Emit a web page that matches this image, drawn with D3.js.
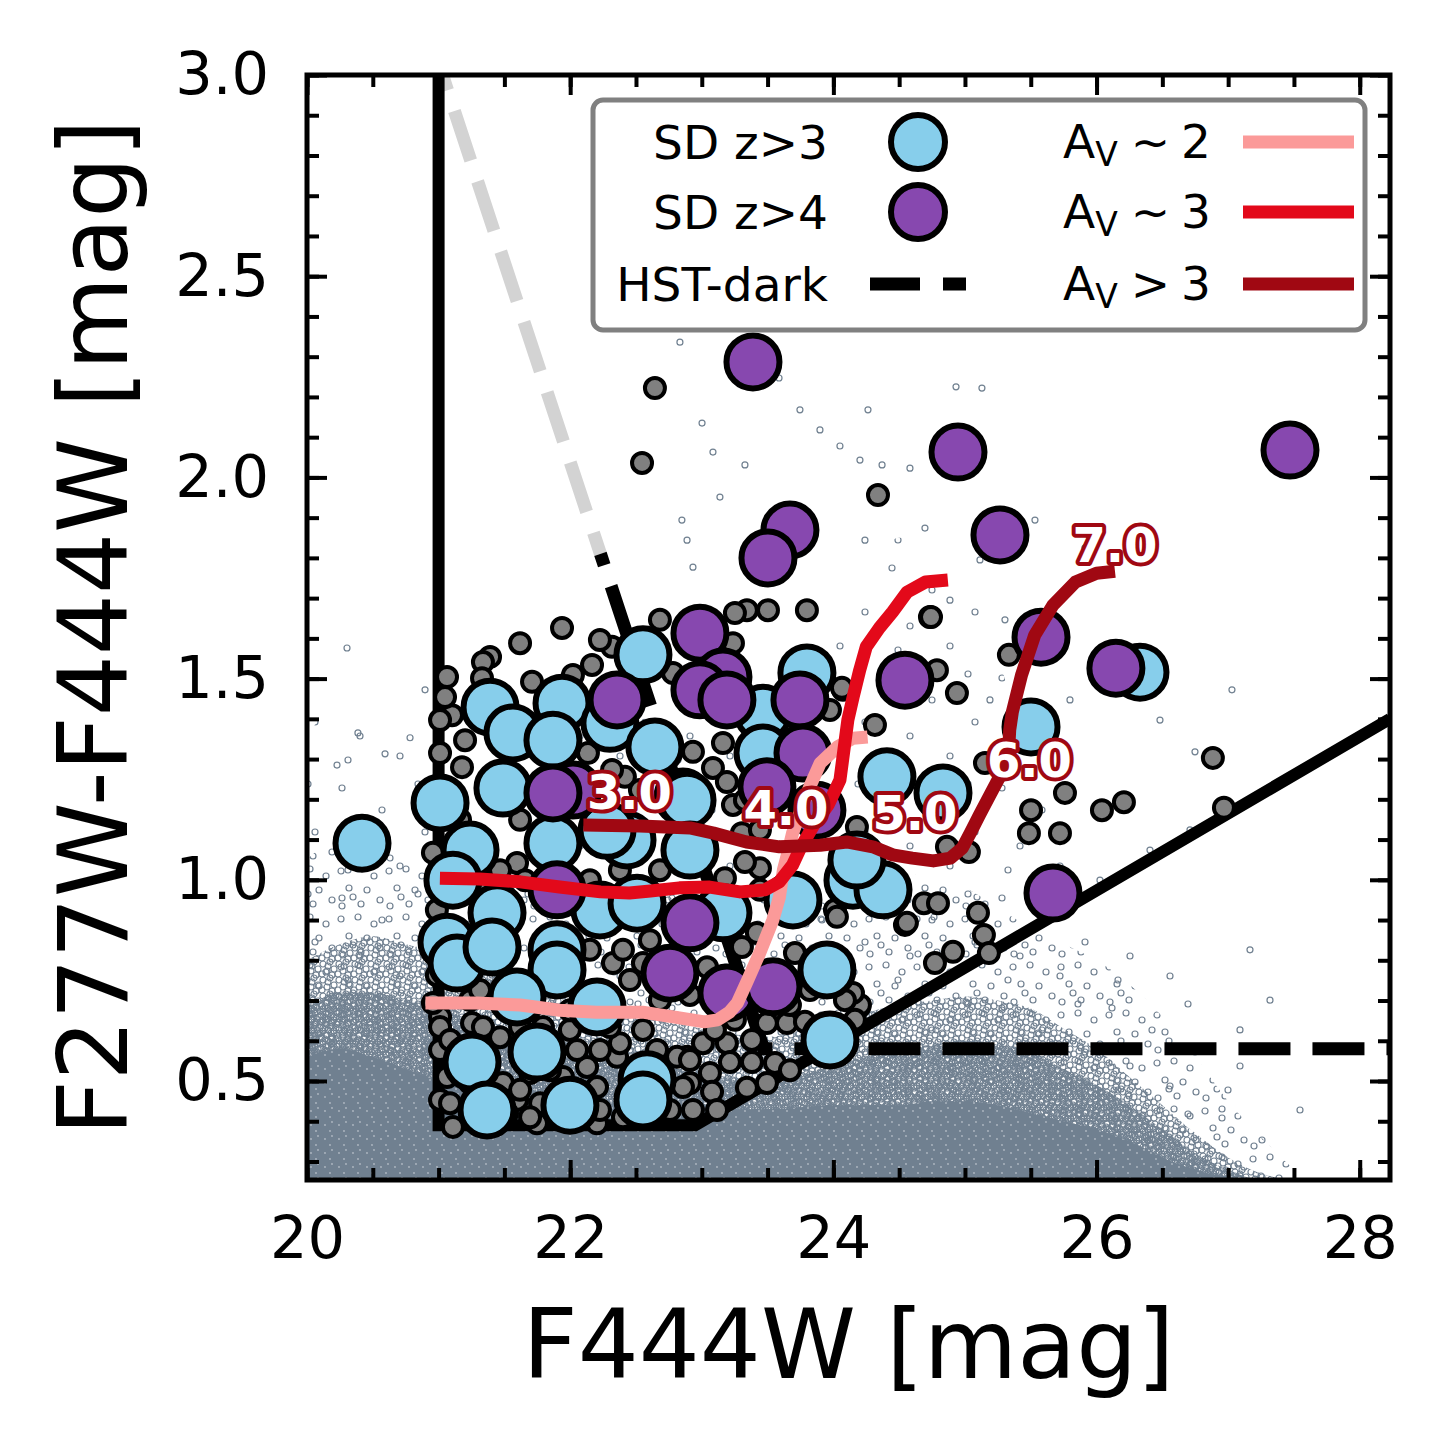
<!DOCTYPE html>
<html>
<head>
<meta charset="utf-8">
<style>
    body { margin: 0; background: #fff; }
    svg { font-family: "DejaVu Sans", sans-serif; }
</style>
</head>
<body>
<svg width="1451" height="1446"></svg>
<script src="https://d3js.org/d3.v7.min.js"></script>
<script>
    // ---- values (F444W, F277W-F444W) ----
    const xTicks = [20, 22, 24, 26, 28];
    const yTicks = [0.5, 1.0, 1.5, 2.0, 2.5, 3.0];

    // SD z>3 (light blue)
    const sdZ3 = [[20.418,1.091],[21.011,1.191],[21.391,1.429],[21.565,1.365],[21.938,1.439],[21.869,1.347],
        [22.302,1.389],[22.553,1.559],[22.644,1.330],[21.489,1.228],[21.239,1.074],[21.869,1.091],[22.432,1.099],
        [22.857,1.206],[22.280,1.123],[21.444,0.918],[21.064,0.845],[21.140,0.793],[21.406,0.833],[21.900,0.826],
        [21.900,0.776],[22.226,0.925],[21.596,0.709],[22.204,0.684],[21.254,0.547],[21.748,0.572],[21.998,0.440],
        [21.368,0.428],[22.584,0.503],[22.553,0.453],[21.109,0.999],[23.161,0.918],[23.693,0.950],[24.149,0.999],
        [24.377,0.975],[23.951,0.776],[23.974,0.602],[23.799,1.514],[23.465,1.414],[23.465,1.315],[24.407,1.256],
        [24.833,1.216],[22.888,1.198],[24.179,1.049],[22.910,1.074],[25.502,1.380],[26.330,1.516],[22.508,0.942]];

    // SD z>4 (purple)
    const sdZ4 = [[23.389,2.287],[24.947,2.063],[27.470,2.068],[23.670,1.869],[23.503,1.800],[25.266,1.857],
        [25.578,1.603],[26.147,1.526],[24.544,1.496],[22.986,1.613],[23.161,1.504],[22.986,1.472],[23.191,1.447],
        [23.746,1.447],[23.769,1.315],[23.495,1.231],[22.356,1.447],[22.021,1.223],[21.869,1.216],[23.875,1.173],
        [21.900,0.975],[22.910,0.893],[22.758,0.768],[23.191,0.719],[23.541,0.734],[25.669,0.967]];

    // HST-dark candidates (grey)
    const hstDark = [[21.938,1.626],[21.619,1.588],[21.391,1.554],[21.337,1.541],[21.064,1.504],[21.330,1.501],
        [21.710,1.492],[22.166,1.534],[22.021,1.509],[21.102,1.409],[21.201,1.347],[21.011,1.315],[21.178,1.280],
        [22.135,1.315],[22.416,1.256],[22.318,1.579],[22.781,1.514],[21.596,1.042],[21.049,1.454],[21.011,1.397],
        [23.343,1.670],[23.503,1.670],[23.799,1.670],[24.734,1.653],[24.939,1.464],[24.787,1.521],[24.073,1.472],
        [24.316,1.385],[23.161,1.340],[22.933,1.318],[23.085,1.278],[23.191,1.243],[23.237,1.186],[24.179,1.131],
        [23.305,1.116],[24.886,1.074],[23.442,1.029],[23.252,1.663],[23.237,1.588],[23.974,1.422],
        [24.339,1.956],[24.742,1.653],[25.334,1.559],[24.065,1.477],[26.884,1.303],[25.760,1.216],[25.502,1.173],
        [26.041,1.173],[26.208,1.193],[26.968,1.179],[25.486,1.116],[25.722,1.116],[25.152,1.290],[24.863,1.082],
        [25.030,1.069],[24.688,0.942],[24.795,0.942],[25.099,0.918],[24.544,0.888],[24.012,0.925],[25.144,0.863],
        [22.644,2.222],[22.546,2.036],
        [25.182,0.818],[24.909,0.821],[24.772,0.793],[24.195,0.684],[24.559,0.893],[24.202,0.689],[24.027,0.908],
        [23.708,0.818],[23.419,0.868],[23.305,0.833],[23.040,0.783],[23.495,0.644],[23.647,0.644],[23.381,0.602],
        [23.191,0.594],[23.009,0.594],[22.888,0.560],[23.214,0.547],[23.381,0.547],[23.556,0.545],[23.670,0.527],
        [23.062,0.520],[22.910,0.495],[23.078,0.473],[23.343,0.483],[23.495,0.495],[22.933,0.428],[23.116,0.428],
        [24.149,0.719],
        [21.011,0.453],[21.254,0.644],[21.011,0.659],[21.467,0.609],[21.064,0.510],[21.489,0.495],[21.596,0.453],
        [21.771,0.445],[21.945,0.510],[22.128,0.535],[22.204,0.485],[22.356,0.560],[22.378,0.594],[22.302,0.634],
        [22.553,0.627],[22.660,0.577],[22.812,0.560],[22.857,0.485],[22.758,0.428],[22.401,0.410],[22.204,0.395],
        [21.748,0.395],[21.109,0.386],[22.325,0.793],[22.401,0.826],[22.553,0.793],[22.606,0.850],[22.150,0.826],
        [22.454,0.751],[20.957,0.694],[21.011,0.634],[21.011,0.577],[21.337,0.634],[21.619,0.634],[21.793,0.634],
        [21.998,0.627],[22.052,0.577],[21.846,0.527],[21.695,0.520],[21.368,0.520],[21.239,0.495],[21.087,0.445],
        [21.520,0.420],[21.695,0.410],[21.900,0.410],[20.957,1.067],[20.987,0.925],[20.987,0.763],
        [21.467,1.024],[21.657,0.999],[21.315,0.999],[22.530,1.223],[22.318,1.273],[23.328,1.044],[23.176,1.004],
        [23.442,0.975],[22.682,0.701],[22.910,0.714],[23.670,0.689],[23.784,0.647],[22.150,0.999],[21.998,0.676],
        [21.163,1.149],[21.619,1.149],[21.239,0.701],[22.378,1.024],[22.682,1.024],[23.328,1.198],[23.442,1.124],
        [22.910,0.552],[23.100,0.627],[23.252,0.652],[23.822,0.726],[21.315,0.726],[22.226,0.577],[21.619,0.478],
        [22.226,0.428],[21.087,0.602],[22.226,1.596],[22.682,1.646],[24.088,0.701],[24.164,0.652]];

    // isolated catalogue sources above the main cloud
    const catalogOutliers = [[22.834,2.336],[23.002,2.135],[23.085,2.063],[23.587,2.247],[23.746,2.168],
        [24.263,2.168],[24.932,2.225],[25.129,2.222],[24.202,2.043],[24.370,2.031],[24.331,1.944],[24.240,1.844],
        [24.696,1.874],[22.849,1.894],[22.888,1.844],[22.933,1.777],[23.138,1.951],[23.328,2.031],[23.898,2.118],
        [24.050,2.078],[24.582,2.023],[24.772,2.056],[25.532,1.894],[25.912,1.825],[26.307,1.472],[26.748,1.318],
        [27.029,1.472],[20.304,1.576],[20.783,1.353],[20.387,1.365],[20.593,1.313],[20.228,1.285],[20.897,1.472],
        [26.482,1.397],[25.798,1.447],[25.114,1.795],[24.886,1.695],[25.304,1.646],[25.190,1.447],[26.026,0.999],
        [26.406,1.074],[26.710,1.124],[27.166,0.826],[27.318,0.701],[27.090,0.627],[27.546,0.428]];

    // catalogue cloud: upper envelope of each density level along F444W
    const cloudX      = [20, 20.25, 20.5, 20.75, 21, 21.5, 22, 22.5, 23, 23.5, 24, 24.25, 24.5, 24.75, 25, 25.25, 25.5, 25.75, 26, 26.25, 26.5, 26.75, 27, 27.25, 27.5];
    const cloudFaint  = [1.35, 1.45, 1.40, 1.35, 1.30, 1.30, 1.35, 1.40, 1.40, 1.45, 1.60, 1.75, 1.85, 1.85, 1.75, 1.55, 1.30, 1.10, 0.98, 0.90, 0.80, 0.72, 0.62, 0.50, 0.35];
    const cloudSparse = [1.05, 1.10, 1.08, 1.05, 1.02, 1.00, 1.00, 1.00, 0.98, 0.95, 0.97, 1.00, 1.02, 1.00, 0.98, 0.93, 0.88, 0.84, 0.80, 0.74, 0.66, 0.56, 0.45, 0.36, 0.28];
    const cloudDense  = [0.80, 0.84, 0.86, 0.84, 0.82, 0.76, 0.71, 0.67, 0.63, 0.61, 0.65, 0.67, 0.69, 0.70, 0.71, 0.70, 0.68, 0.63, 0.58, 0.51, 0.44, 0.37, 0.31, 0.27, 0.254];
    const cloudHeavy  = [0.68, 0.72, 0.72, 0.70, 0.68, 0.62, 0.58, 0.55, 0.52, 0.50, 0.54, 0.56, 0.58, 0.59, 0.60, 0.59, 0.57, 0.53, 0.49, 0.44, 0.38, 0.32, 0.28, 0.254, 0.254];
    const cloudSolid  = [0.56, 0.58, 0.56, 0.53, 0.50, 0.47, 0.45, 0.44, 0.43, 0.43, 0.44, 0.44, 0.44, 0.45, 0.45, 0.44, 0.42, 0.40, 0.38, 0.35, 0.31, 0.28, 0.26, 0.254, 0.254];

    // selection boundaries
    const cutSolid = [[21.0, 3.0], [21.0, 0.39], [22.95, 0.39], [28.23, 1.40]];
    const hstCutGrey = [[21.03, 3.0], [22.23, 1.81]];
    const hstCutBlack = [[22.23, 1.81], [23.47, 0.58], [28.3, 0.58]];

    // dusty-galaxy colour tracks
    const avTrack2 = [[20.90,0.694],[21.29,0.694],[21.62,0.689],[21.92,0.676],[22.20,0.671],[22.55,0.671],[22.83,0.657],
        [23.02,0.647],[23.12,0.652],[23.21,0.671],[23.27,0.694],[23.34,0.744],[23.44,0.818],[23.54,0.900],[23.59,0.957],
        [23.62,1.024],[23.65,1.062],[23.69,1.116],[23.82,1.231],[23.90,1.290],[24.03,1.330],[24.15,1.352],[24.26,1.355]];
    const avTrack3 = [[21.01,1.004],[21.31,1.002],[21.62,0.995],[21.92,0.982],[22.23,0.970],[22.45,0.967],[22.61,0.972],
        [22.83,0.980],[23.06,0.982],[23.29,0.970],[23.48,0.975],[23.59,0.995],[23.69,1.037],[23.75,1.079],[23.86,1.141],
        [23.96,1.186],[24.05,1.248],[24.09,1.347],[24.11,1.397],[24.15,1.454],[24.20,1.521],[24.25,1.579],[24.35,1.626],
        [24.45,1.666],[24.56,1.715],[24.70,1.740],[24.87,1.745]];
    const avTrack4 = [[22.10,1.136],[22.53,1.134],[22.91,1.129],[23.09,1.116],[23.34,1.094],[23.59,1.082],[23.90,1.086],
        [24.10,1.094],[24.30,1.082],[24.45,1.062],[24.60,1.054],[24.76,1.047],[24.89,1.054],[24.98,1.079],[25.04,1.116],
        [25.11,1.161],[25.19,1.211],[25.27,1.260],[25.33,1.310],[25.34,1.372],[25.36,1.417],[25.43,1.509],[25.53,1.608],
        [25.67,1.683],[25.84,1.740],[26.00,1.762],[26.14,1.767]];
    const zLabels = ["3.0", "4.0", "5.0", "6.0", "7.0"];
    const zLabelX = [22.45, 23.64, 24.62, 25.49, 26.14];
    const zLabelY = [1.218, 1.178, 1.166, 1.298, 1.832];

    // ---- layout ----
    const mLeft = 307, mRight = 1390, mTop = 75, mBottom = 1180;
    const svg = d3.select("svg");

    const x = d3.scaleLinear().domain([20, 28.23]).range([mLeft, mRight]);
    const y = d3.scaleLinear().domain([0.254, 3.0]).range([mBottom, mTop]);

    const slate = "#708090";
    const defs = svg.append("defs");
    defs.append("clipPath").attr("id", "plotClip")
        .append("rect").attr("x", mLeft).attr("y", mTop).attr("width", mRight - mLeft).attr("height", mBottom - mTop);

    // ring textures for the dense catalogue cloud
    function ringPattern(id, size, pts) {
        const p = defs.append("pattern").attr("id", id)
            .attr("patternUnits", "userSpaceOnUse").attr("width", size).attr("height", size);
        const all = [];
        pts.forEach(d => { for (const dx of [-size, 0, size]) for (const dy of [-size, 0, size]) all.push([d[0] + dx, d[1] + dy]); });
        p.selectAll("circle").data(all).join("circle")
            .attr("cx", d => d[0]).attr("cy", d => d[1]).attr("r", 3)
            .attr("fill", "none").attr("stroke", slate).attr("stroke-width", 1.2);
    }
    ringPattern("ringsFaint", 110, [[12, 18], [52, 40], [30, 76], [88, 14], [95, 62], [70, 96], [18, 100]]);
    ringPattern("ringsSparse", 48, [[5, 7], [22, 5], [38, 12], [31, 26], [13, 24], [25, 40], [44, 36], [6, 42], [17, 33]]);
    ringPattern("ringsDense", 16, [[3, 4], [10, 2], [14, 9], [7, 11], [2, 14], [12, 15], [8, 6]]);
    ringPattern("ringsHeavy", 11, [[2, 3], [7, 1], [9, 7], [4, 8], [1, 10], [6, 5]]);
    const speck = defs.append("pattern").attr("id", "specks")
        .attr("patternUnits", "userSpaceOnUse").attr("width", 14).attr("height", 14);
    speck.append("rect").attr("width", 14).attr("height", 14).attr("fill", slate);
    speck.selectAll("circle").data([[3, 5], [10, 2], [8, 11]]).join("circle")
        .attr("cx", d => d[0]).attr("cy", d => d[1]).attr("r", 0.9).attr("fill", "#fff").attr("opacity", 0.45);

    const plot = svg.append("g").attr("clip-path", "url(#plotClip)");

    // cloud
    const cloudLevels = [
        { top: cloudFaint, fill: "url(#ringsFaint)" },
        { top: cloudSparse, fill: "url(#ringsSparse)" },
        { top: cloudDense, fill: "url(#ringsDense)" },
        { top: cloudHeavy, fill: "url(#ringsHeavy)" },
        { top: cloudSolid, fill: "url(#specks)" }
    ];
    const area = d3.area()
        .x(d => x(d[0])).y0(y(0.254)).y1(d => y(d[1]))
        .curve(d3.curveMonotoneX);
    plot.selectAll(".cloud").data(cloudLevels).join("path")
        .attr("class", "cloud")
        .attr("d", lvl => area(cloudX.map((cx, i) => [cx, lvl.top[i]])))
        .attr("fill", lvl => lvl.fill);

    plot.selectAll(".outlier").data(catalogOutliers).join("circle")
        .attr("class", "outlier")
        .attr("cx", d => x(d[0])).attr("cy", d => y(d[1])).attr("r", 3)
        .attr("fill", "none").attr("stroke", slate).attr("stroke-width", 1.2);

    // selection lines
    const line = d3.line().x(d => x(d[0])).y(d => y(d[1]));
    plot.append("path").attr("d", line(hstCutGrey))
        .attr("fill", "none").attr("stroke", "#d3d3d3").attr("stroke-width", 13)
        .attr("stroke-dasharray", "52,22").attr("stroke-dashoffset", 36);
    plot.append("path").attr("d", line(hstCutBlack))
        .attr("fill", "none").attr("stroke", "#000").attr("stroke-width", 13)
        .attr("stroke-dasharray", "52,22").attr("stroke-dashoffset", 40);
    plot.append("path").attr("d", line(cutSolid))
        .attr("fill", "none").attr("stroke", "#000").attr("stroke-width", 12)
        .attr("stroke-linejoin", "miter");

    // sources
    function dots(data, r, fill, sw) {
        plot.append("g").selectAll("circle").data(data).join("circle")
            .attr("cx", d => x(d[0])).attr("cy", d => y(d[1])).attr("r", r)
            .attr("fill", fill).attr("stroke", "#000").attr("stroke-width", sw);
    }
    dots(hstDark, 10, "#808080", 4);
    dots(sdZ3, 26.5, "#87ceeb", 6);
    dots(sdZ4, 26.5, "#8748af", 6);

    // tracks
    const tracks = [
        { data: avTrack2, color: "#fb9a99" },
        { data: avTrack3, color: "#e3091a" },
        { data: avTrack4, color: "#a00812" }
    ];
    plot.selectAll(".track").data(tracks).join("path")
        .attr("class", "track")
        .attr("d", t => line(t.data))
        .attr("fill", "none").attr("stroke", t => t.color).attr("stroke-width", 13)
        .attr("stroke-linejoin", "round");

    svg.append("g").selectAll("text").data(zLabels).join("text")
        .attr("x", (d, i) => x(zLabelX[i])).attr("y", (d, i) => y(zLabelY[i]))
        .attr("text-anchor", "middle").attr("dominant-baseline", "central")
        .attr("font-size", 48).attr("font-weight", "bold")
        .attr("fill", "#fff").attr("stroke", "#a00812").attr("stroke-width", 8)
        .attr("stroke-linejoin", "round").attr("paint-order", "stroke")
        .text(d => d);

    // ---- axes ----
    const xMinor = d3.range(20, 28.3, 0.5);
    const yMinor = d3.range(3, 30.5, 1).map(v => v / 10);
    function styleAxis(g) {
        g.select(".domain").remove();
        g.selectAll("line").attr("stroke", "#000").attr("stroke-width", 4);
        g.selectAll("text").attr("font-size", 59).attr("fill", "#000")
            .attr("font-family", "DejaVu Sans, sans-serif");
    }
    const axes = [
        [() => d3.axisBottom(x), "translate(0," + mBottom + ")", d3.format("d"), 36, xTicks, xMinor],
        [() => d3.axisTop(x), "translate(0," + mTop + ")", () => "", 8, xTicks, xMinor],
        [() => d3.axisLeft(y), "translate(" + mLeft + ",0)", d3.format(".1f"), 38, yTicks, yMinor],
        [() => d3.axisRight(y), "translate(" + mRight + ",0)", () => "", 8, yTicks, yMinor]
    ];
    axes.forEach(([mk, tr, fmt, pad, major, minor]) => {
        svg.append("g").attr("transform", tr)
            .call(mk().tickValues(minor).tickSize(-12).tickSizeOuter(0).tickFormat(""))
            .call(styleAxis);
        svg.append("g").attr("transform", tr)
            .call(mk().tickValues(major).tickSize(-20).tickSizeOuter(0).tickPadding(pad).tickFormat(fmt))
            .call(styleAxis);
    });
    svg.append("rect").attr("x", mLeft).attr("y", mTop)
        .attr("width", mRight - mLeft).attr("height", mBottom - mTop)
        .attr("fill", "none").attr("stroke", "#000").attr("stroke-width", 5);

    svg.append("text").attr("x", (mLeft + mRight) / 2).attr("y", 1378)
        .attr("text-anchor", "middle").attr("font-size", 96).text("F444W [mag]");
    svg.append("text").attr("transform", "translate(127," + (mTop + mBottom) / 2 + ") rotate(-90)")
        .attr("text-anchor", "middle").attr("font-size", 96).text("F277W-F444W [mag]");

    // ---- legend ----
    const lg = svg.append("g");
    lg.append("rect").attr("x", 593).attr("y", 100).attr("width", 772).attr("height", 230).attr("rx", 10)
        .attr("fill", "#fff").attr("stroke", "#808080").attr("stroke-width", 5);
    const rowY = [142, 212, 284];
    const leftItems = [
        { label: "SD z>3", fill: "#87ceeb" },
        { label: "SD z>4", fill: "#8748af" },
        { label: "HST-dark", fill: null }
    ];
    leftItems.forEach((it, i) => {
        lg.append("text").attr("x", 828).attr("y", rowY[i]).attr("text-anchor", "end")
            .attr("dominant-baseline", "central").attr("font-size", 47).text(it.label);
        if (it.fill) {
            lg.append("circle").attr("cx", 918).attr("cy", rowY[i]).attr("r", 27)
                .attr("fill", it.fill).attr("stroke", "#000").attr("stroke-width", 6);
        } else {
            lg.append("line").attr("x1", 870).attr("x2", 966).attr("y1", rowY[i]).attr("y2", rowY[i])
                .attr("stroke", "#000").attr("stroke-width", 13).attr("stroke-dasharray", "50,23");
        }
    });
    const rightItems = [
        { rel: " ~ 2", color: "#fb9a99" },
        { rel: " ~ 3", color: "#e3091a" },
        { rel: " > 3", color: "#a00812" }
    ];
    rightItems.forEach((it, i) => {
        const t = lg.append("text").attr("x", 1209).attr("y", rowY[i] + 16).attr("text-anchor", "end")
            .attr("font-size", 47);
        t.append("tspan").text("A");
        t.append("tspan").attr("font-size", 33).attr("dy", 8).text("V");
        t.append("tspan").attr("dy", -8).attr("letter-spacing", -2).text(it.rel);
        lg.append("line").attr("x1", 1243).attr("x2", 1354).attr("y1", rowY[i]).attr("y2", rowY[i])
            .attr("stroke", it.color).attr("stroke-width", 13);
    });
</script>
</body>
</html>
